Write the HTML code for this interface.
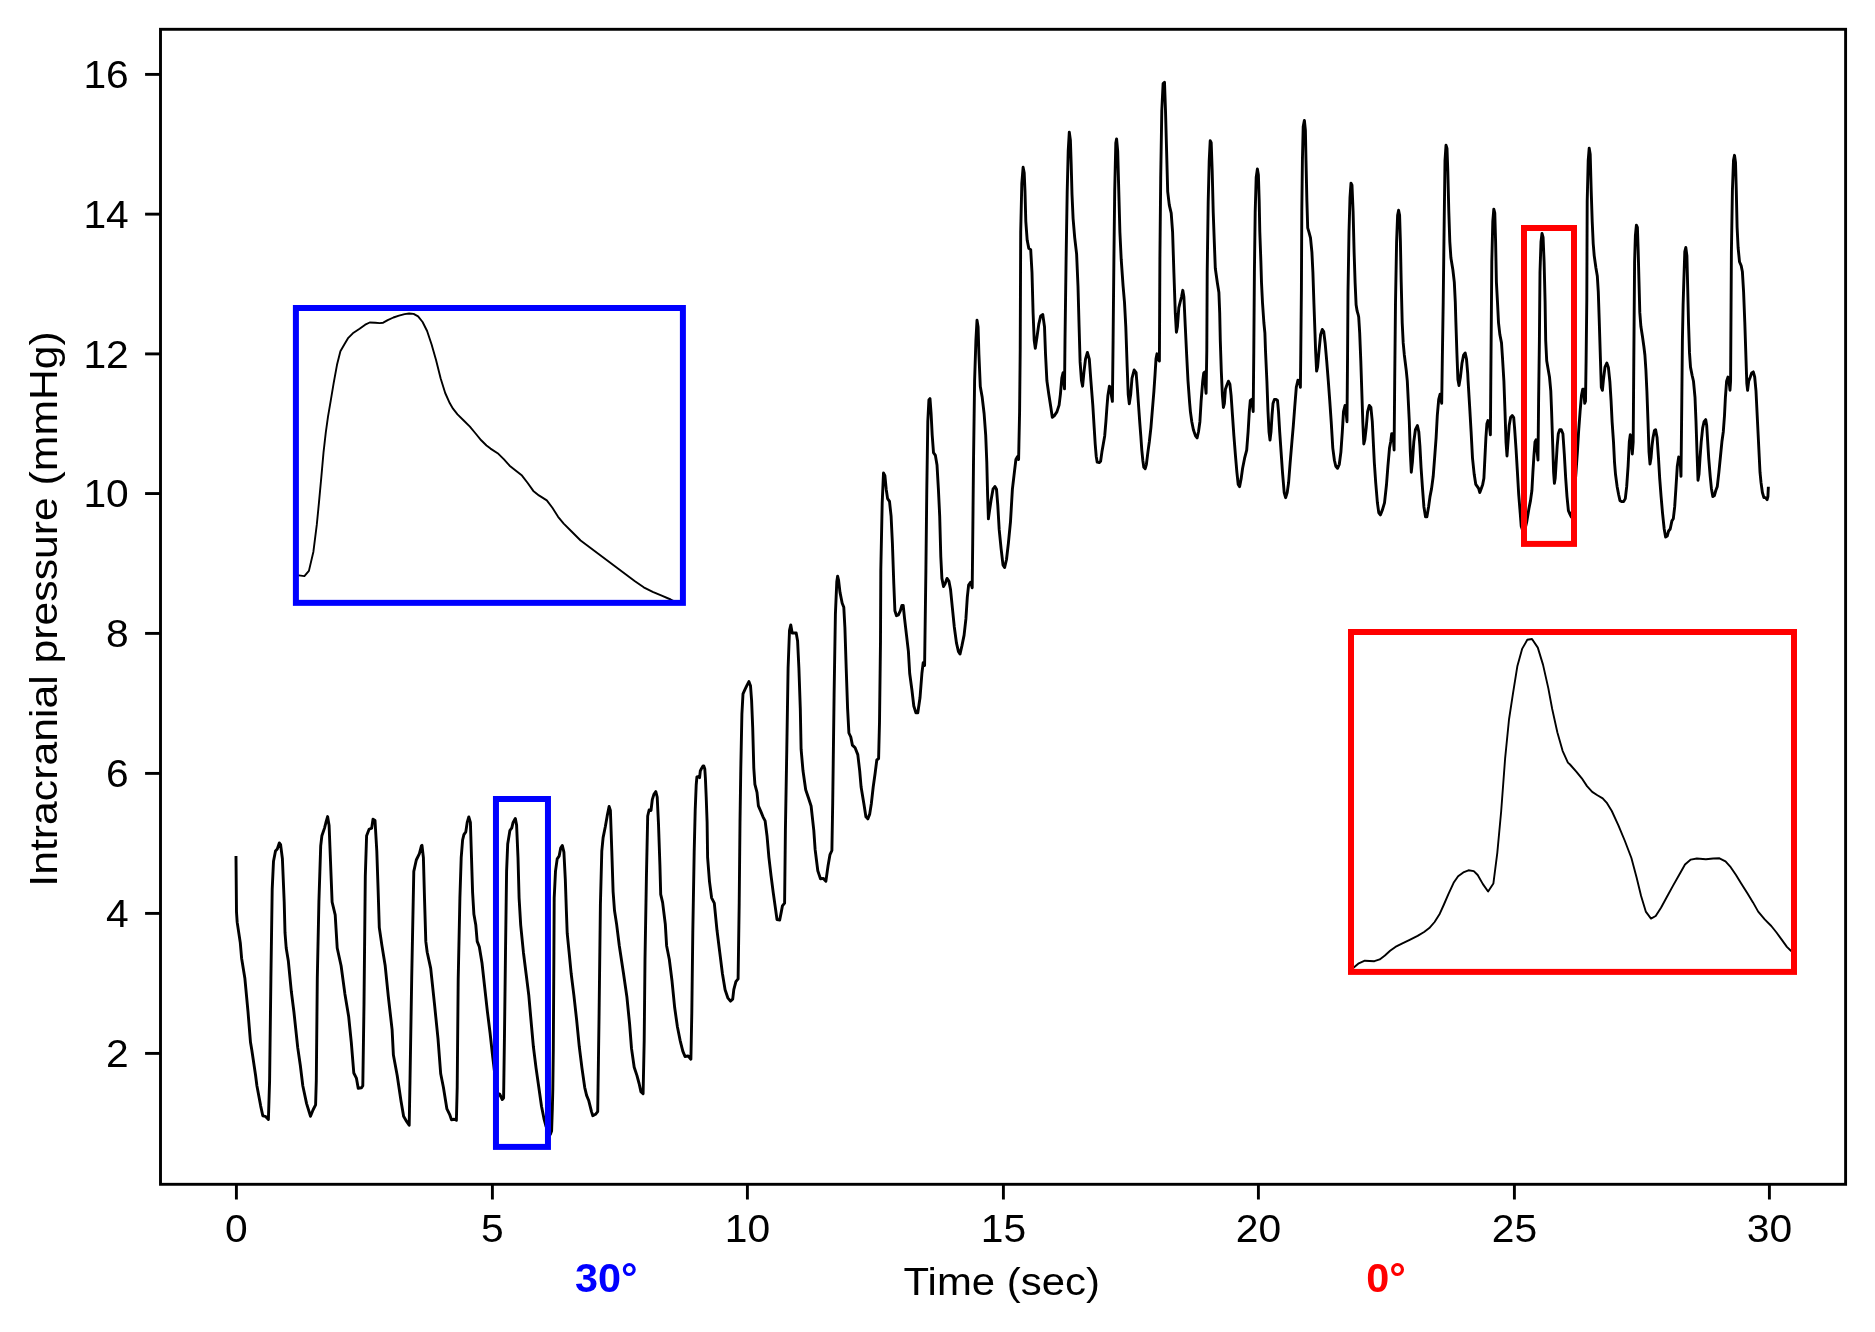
<!DOCTYPE html>
<html><head><meta charset="utf-8"><style>
html,body{margin:0;padding:0;background:#fff;}
svg{display:block;will-change:transform;}
text{font-family:"Liberation Sans",sans-serif;}
.tk{font-size:39.2px;}
.lb{font-size:39.1px;}
.dg{font-size:41.4px;font-weight:bold;}
</style></head><body>
<svg width="1875" height="1332" viewBox="0 0 1875 1332">
<polyline points="236.0,857.5 236.5,912.2 237.2,922.4 240.3,942.9 241.6,958.2 244.9,978.6 248.0,1011.7 250.5,1042.3 251.8,1050.0 255.6,1075.5 256.9,1085.7 260.7,1106.1 262.8,1115.8 265.3,1116.3 268.4,1119.4 269.6,1080.6 270.9,978.6 272.2,889.3 273.5,861.2 275.5,851.0 277.3,849.0 279.3,842.9 280.6,844.6 282.4,858.7 284.2,902.0 285.0,932.7 286.2,948.0 288.3,960.7 291.3,991.3 293.9,1011.7 297.7,1047.4 300.3,1065.3 302.8,1085.7 306.6,1103.6 310.5,1116.3 313.0,1110.0 315.6,1104.8 316.3,1080.6 317.3,978.6 318.9,902.0 320.7,845.9 321.9,835.7 324.5,828.1 325.8,823.0 327.6,816.6 329.1,825.5 330.1,851.0 332.1,902.0 335.2,914.8 337.2,948.0 341.1,965.8 344.9,993.9 348.7,1016.8 351.3,1042.3 353.8,1073.0 356.4,1078.1 358.2,1088.3 361.5,1087.8 362.8,1085.7 364.0,1004.0 365.3,876.5 366.6,835.7 369.1,829.3 371.7,828.1 373.0,819.1 375.0,820.4 376.8,851.0 378.1,889.3 379.3,927.6 381.9,945.4 385.2,965.8 388.3,996.4 392.1,1029.6 393.4,1055.1 397.2,1075.5 401.0,1101.0 403.6,1116.3 406.6,1121.4 409.2,1125.3 410.0,1080.6 411.7,978.6 413.8,871.4 416.3,860.0 419.4,853.6 421.4,845.9 422.0,845.4 423.4,857.6 424.5,898.1 425.8,941.4 427.2,952.2 430.7,968.4 434.7,1006.2 438.0,1038.6 440.7,1073.8 443.4,1087.3 446.9,1108.9 449.6,1114.3 451.5,1119.7 454.2,1119.2 456.4,1120.3 457.2,1087.3 458.2,979.2 459.9,898.1 461.2,857.6 462.6,840.0 463.9,834.6 465.8,831.9 467.2,822.4 468.8,817.0 470.4,822.4 471.5,857.6 472.6,892.7 473.9,914.3 475.8,925.1 477.2,941.4 479.3,946.8 482.0,963.0 484.7,987.3 487.4,1011.6 490.1,1033.2 492.8,1057.6 495.5,1080.0 498.2,1095.4 499.6,1094.0 502.3,1099.5 503.6,1098.1 504.5,1033.2 505.5,952.2 506.6,871.1 507.7,844.1 509.9,830.5 511.8,827.8 513.1,822.4 515.3,818.4 516.6,825.1 518.0,857.6 519.1,898.1 520.7,925.1 523.4,952.2 526.1,973.8 528.8,995.4 530.7,1017.0 533.4,1046.8 536.1,1068.4 538.8,1087.3 541.5,1106.2 544.2,1119.7 546.1,1126.5 548.5,1132.5 550.3,1134.5 551.6,1131.0 552.3,1110.0 552.8,1090.0 553.3,1050.0 553.9,952.2 554.2,898.1 555.5,871.1 557.2,858.9 559.1,856.2 560.7,848.1 562.3,845.4 563.9,852.2 565.3,879.2 566.4,911.6 567.2,933.2 569.1,952.2 571.2,973.8 573.9,995.4 576.6,1019.7 579.3,1046.8 582.0,1068.4 584.7,1087.3 586.6,1095.4 588.8,1100.8 591.5,1111.6 592.8,1115.7 595.5,1114.3 597.7,1111.6 599.1,1013.2 600.4,905.1 601.8,851.1 603.1,837.6 605.3,826.8 607.2,815.9 609.1,806.5 610.4,810.5 611.8,851.1 613.1,891.6 614.5,910.5 616.6,924.1 619.3,945.7 623.4,972.7 626.9,997.0 629.6,1024.0 631.5,1048.4 634.2,1067.3 636.9,1075.4 639.1,1083.5 640.9,1091.6 643.1,1093.8 644.2,1040.3 645.0,959.2 646.4,878.1 647.7,816.0 649.1,810.0 651.0,810.5 652.3,799.7 653.9,794.3 655.8,791.6 657.2,797.0 658.5,824.1 659.9,864.6 660.7,894.3 662.6,902.4 665.3,924.1 666.6,945.7 669.3,959.2 672.0,980.8 674.7,1007.8 677.4,1026.8 680.1,1040.3 682.8,1051.1 685.0,1056.5 688.2,1056.0 690.9,1059.2 691.8,1013.2 692.8,932.2 694.2,851.1 695.2,810.0 696.2,785.0 696.9,777.0 698.3,776.6 699.6,777.6 700.3,771.0 701.7,768.2 703.0,766.0 703.8,766.0 704.8,769.0 705.4,778.0 706.2,797.0 707.1,822.0 707.6,857.3 709.5,881.6 711.6,897.8 714.3,903.2 717.0,930.3 719.7,951.9 722.4,973.5 725.1,989.7 727.8,997.8 730.5,1001.1 732.7,999.2 733.8,989.7 735.9,981.6 738.1,978.9 739.2,903.2 740.0,822.2 740.8,768.1 741.9,714.1 743.0,693.8 744.9,689.7 746.8,685.7 748.9,681.6 750.5,685.7 751.6,700.5 752.7,727.6 753.8,768.1 754.9,784.3 757.0,792.4 758.4,805.9 760.8,811.4 763.0,816.8 765.1,820.8 767.0,835.7 768.9,857.3 771.1,876.2 773.2,892.4 775.1,905.9 777.0,919.5 779.7,920.0 781.4,911.4 782.4,905.9 784.6,903.2 785.4,830.3 786.8,749.2 788.1,668.1 789.5,630.3 790.8,624.9 792.2,633.0 794.1,633.0 796.2,633.0 797.6,641.1 798.9,668.1 800.3,708.6 801.1,749.2 803.0,770.8 805.7,789.7 808.4,797.8 811.1,806.0 813.8,830.3 815.1,849.2 817.8,870.8 820.5,878.9 823.2,878.4 825.9,881.1 828.1,865.4 830.0,854.6 831.9,850.5 832.7,803.2 834.1,695.1 835.4,614.1 836.8,581.6 837.6,576.2 838.6,580.3 840.0,592.4 842.2,603.2 843.8,607.3 844.9,627.6 846.2,668.1 847.6,708.6 848.9,733.0 850.8,737.0 852.4,745.1 855.1,747.8 857.8,754.6 859.7,770.8 861.1,787.0 863.8,803.2 865.9,816.8 867.8,818.9 869.7,814.1 871.4,803.2 873.2,787.0 875.1,773.5 876.8,760.0 878.6,758.6 879.5,722.2 880.5,641.1 880.8,570.3 882.2,502.7 883.5,473.0 884.9,475.7 886.2,489.2 887.6,498.6 889.5,501.4 891.1,516.2 892.4,543.2 893.8,583.8 894.9,610.8 896.5,615.7 898.4,614.9 900.3,610.8 901.9,605.4 903.2,605.4 904.6,618.9 906.5,635.1 908.4,651.4 909.7,673.5 911.9,689.7 913.8,706.0 915.9,712.7 917.8,712.7 920.0,697.8 921.9,673.5 923.2,662.7 924.6,665.4 925.9,570.3 926.8,489.2 927.8,421.6 928.9,400.0 930.0,398.6 931.1,413.5 932.2,435.1 933.5,452.7 935.4,455.4 937.0,464.9 938.4,489.2 939.7,516.2 940.8,556.8 941.9,578.4 943.5,586.5 945.1,583.8 947.0,578.4 948.9,581.1 950.5,589.2 952.4,608.1 954.3,627.0 956.5,643.2 958.4,651.4 960.0,654.1 961.9,645.9 964.1,635.1 965.9,618.9 967.3,597.3 968.6,585.1 970.5,582.4 972.2,587.8 972.7,543.2 973.5,462.2 974.6,381.1 975.9,340.5 977.0,320.3 978.1,327.0 978.9,354.1 980.3,386.5 982.2,397.3 984.1,413.5 985.7,435.1 986.8,462.2 987.6,494.6 988.4,518.9 989.5,510.8 991.1,500.0 993.0,489.2 994.9,486.5 996.5,489.2 997.8,505.4 999.2,529.7 1001.1,548.6 1003.0,564.9 1004.6,567.6 1006.5,559.5 1008.4,543.2 1010.5,521.6 1012.4,489.2 1014.6,470.3 1015.9,459.5 1017.3,456.8 1018.6,459.5 1019.6,411.6 1020.2,350.8 1020.7,232.2 1021.8,183.5 1023.1,167.3 1024.2,172.7 1025.0,191.6 1025.8,221.4 1027.2,240.3 1028.8,248.4 1030.7,249.7 1032.0,272.7 1033.1,313.2 1034.2,340.3 1035.3,348.4 1036.9,337.6 1038.8,324.1 1040.7,315.9 1042.8,314.6 1044.5,326.8 1045.5,353.8 1046.9,380.8 1048.8,394.3 1050.9,407.8 1052.3,417.3 1054.2,415.9 1056.9,411.9 1059.1,405.1 1060.4,394.3 1061.8,378.1 1063.1,372.7 1064.5,388.9 1065.0,340.3 1066.1,259.2 1067.2,191.6 1068.2,151.1 1069.3,132.2 1070.4,140.3 1071.2,164.6 1072.0,194.3 1073.1,218.6 1074.7,237.6 1076.6,253.8 1078.0,286.2 1079.1,326.8 1080.1,361.9 1081.5,380.8 1082.6,386.2 1083.9,372.7 1085.5,359.2 1087.4,352.4 1089.3,359.2 1090.9,380.8 1092.8,405.1 1094.2,427.8 1095.2,444.0 1096.2,456.2 1097.2,462.2 1099.2,462.6 1100.6,461.2 1101.9,452.1 1103.3,444.0 1104.7,435.9 1105.9,421.7 1106.9,407.5 1107.9,395.4 1109.4,386.3 1110.4,387.3 1111.4,395.4 1112.4,401.4 1113.1,340.3 1113.9,259.2 1114.7,191.6 1115.8,143.0 1116.6,138.9 1117.7,151.1 1118.8,191.6 1119.9,232.2 1121.2,259.2 1123.1,286.2 1124.5,302.4 1125.8,326.8 1127.2,367.3 1128.2,394.3 1129.3,403.8 1130.7,394.3 1132.0,378.1 1134.2,370.0 1136.1,372.7 1137.4,388.9 1138.7,407.5 1139.7,421.7 1140.8,435.9 1141.8,450.1 1142.8,460.2 1143.8,467.3 1145.2,468.7 1146.4,464.3 1147.9,452.1 1149.3,442.0 1150.9,427.8 1151.9,415.6 1152.9,403.5 1153.9,391.3 1155.0,375.1 1156.0,358.9 1157.0,353.8 1158.4,359.9 1159.4,360.9 1159.9,259.2 1160.7,178.1 1161.8,110.5 1163.1,83.5 1164.5,82.2 1165.5,110.5 1166.6,151.1 1167.7,191.6 1169.3,205.1 1171.2,213.2 1172.6,232.2 1173.9,272.7 1175.3,313.2 1176.4,332.2 1177.4,326.8 1178.8,307.8 1180.1,302.4 1181.5,297.0 1182.8,290.3 1183.9,297.0 1185.3,326.8 1186.6,353.8 1188.0,380.8 1189.6,402.4 1190.4,411.6 1191.8,421.7 1193.4,429.8 1195.5,435.9 1197.1,437.9 1198.5,431.8 1199.9,421.7 1201.1,401.4 1202.7,381.2 1203.7,373.1 1204.7,372.1 1205.5,387.3 1206.1,393.3 1206.8,350.8 1207.2,272.4 1208.2,201.4 1209.2,160.9 1210.2,140.7 1211.2,142.7 1212.2,171.1 1213.2,211.6 1214.3,242.0 1215.3,268.3 1217.3,282.5 1218.9,292.6 1219.7,312.9 1220.3,340.7 1221.3,371.1 1222.4,395.4 1223.4,407.5 1224.4,403.5 1225.4,389.3 1226.8,385.2 1228.4,381.2 1229.9,384.2 1231.1,395.4 1232.5,415.6 1233.9,435.9 1235.5,456.2 1236.9,472.4 1238.2,484.5 1239.6,486.6 1241.2,478.4 1242.6,468.3 1244.6,458.2 1246.7,450.1 1248.1,431.8 1249.3,411.6 1250.3,400.4 1251.7,399.4 1253.2,411.6 1253.8,350.8 1254.4,272.4 1255.2,211.6 1256.2,177.1 1257.4,169.0 1258.4,175.1 1259.2,201.4 1259.8,231.8 1260.9,262.2 1261.5,282.5 1262.5,302.8 1263.9,323.0 1264.9,333.2 1265.5,350.8 1266.9,381.2 1268.0,411.6 1269.0,431.8 1270.0,440.0 1271.0,431.8 1272.0,415.6 1273.0,403.5 1274.4,399.4 1276.1,399.4 1277.5,400.4 1278.5,411.6 1279.7,431.8 1281.1,452.1 1282.5,472.4 1284.2,492.6 1285.6,497.7 1287.2,492.6 1288.6,482.5 1290.2,462.2 1291.9,442.0 1293.3,425.8 1294.7,407.5 1296.3,387.3 1297.9,380.2 1299.4,381.2 1300.4,387.3 1300.8,350.8 1301.4,290.0 1301.8,211.6 1302.4,160.9 1303.2,126.5 1304.4,120.4 1305.4,130.5 1306.0,160.9 1306.9,201.4 1307.7,227.8 1308.9,231.8 1310.5,237.9 1311.9,252.1 1312.9,272.4 1313.9,302.8 1315.0,333.2 1315.6,350.8 1316.6,371.1 1317.6,367.0 1319.0,350.8 1320.6,334.6 1322.3,329.5 1323.7,331.5 1325.1,342.7 1326.7,360.9 1328.3,381.2 1329.8,401.4 1331.2,421.7 1332.8,448.1 1334.4,460.2 1335.8,466.3 1337.5,468.3 1339.3,464.3 1340.9,452.1 1342.3,431.8 1343.5,411.6 1345.0,405.5 1346.0,411.6 1347.0,421.7 1347.6,350.8 1348.0,292.6 1349.0,231.8 1350.0,197.4 1351.0,183.2 1352.0,185.2 1353.1,211.6 1354.1,252.1 1355.1,282.5 1356.1,304.8 1357.1,310.9 1358.1,314.3 1358.7,317.0 1359.7,333.2 1360.8,360.9 1361.8,391.3 1362.8,421.7 1363.8,444.0 1364.8,440.0 1366.2,427.8 1367.6,411.6 1369.3,405.5 1370.9,407.5 1372.3,421.7 1373.3,442.0 1374.3,462.2 1375.7,482.5 1377.4,502.8 1378.8,512.9 1380.4,514.9 1382.4,509.9 1384.5,502.8 1386.5,484.5 1387.9,466.3 1389.5,448.1 1390.7,441.8 1391.7,433.7 1393.1,433.7 1394.1,450.0 1394.7,381.1 1395.5,302.4 1396.6,241.6 1397.6,215.2 1398.6,210.2 1399.6,215.2 1400.4,241.6 1401.2,282.1 1402.2,322.6 1403.2,342.9 1404.3,354.7 1406.3,370.9 1407.3,381.1 1408.3,401.3 1409.3,421.6 1410.3,452.0 1411.3,472.2 1412.4,462.1 1413.8,441.8 1415.4,429.7 1417.4,425.6 1418.8,431.7 1419.9,445.9 1421.1,468.2 1422.5,488.4 1423.9,506.7 1425.5,516.8 1426.9,516.8 1428.6,506.7 1430.0,496.6 1431.6,488.4 1433.2,476.3 1434.6,458.1 1436.1,437.8 1437.3,415.5 1438.7,399.3 1440.1,394.2 1441.7,403.3 1442.3,360.8 1443.2,302.4 1444.2,221.3 1445.0,160.5 1446.0,145.3 1447.0,148.4 1447.8,170.7 1448.8,211.2 1449.8,241.6 1450.9,257.8 1452.9,270.0 1454.3,282.1 1455.3,302.4 1455.9,322.6 1456.9,353.0 1457.9,379.4 1459.0,385.5 1460.4,377.3 1462.0,363.2 1463.6,355.1 1465.2,353.0 1466.5,359.1 1467.7,373.3 1468.1,381.1 1469.7,407.4 1471.1,431.7 1472.5,458.1 1474.2,474.3 1475.8,484.4 1477.2,486.4 1478.6,488.4 1479.8,492.5 1481.3,488.4 1482.7,484.4 1483.9,478.3 1484.9,458.1 1485.9,437.8 1486.9,423.6 1487.9,420.6 1489.4,425.6 1490.4,434.8 1490.8,381.1 1491.8,261.8 1492.8,221.3 1493.8,209.2 1494.8,213.2 1495.6,241.6 1496.4,282.1 1497.5,302.4 1498.5,322.6 1499.9,334.8 1501.5,342.9 1502.5,358.0 1503.9,381.1 1505.0,411.5 1506.0,441.8 1507.0,456.0 1508.0,441.8 1509.2,425.6 1510.6,417.5 1512.3,415.5 1513.7,417.5 1514.7,429.7 1516.1,450.0 1517.3,470.2 1518.7,494.5 1520.2,512.8 1521.2,526.0 1523.0,531.5 1524.8,530.0 1526.8,521.6 1528.9,508.7 1530.5,500.6 1531.9,490.5 1532.9,472.2 1533.9,456.0 1535.0,441.8 1536.0,439.8 1537.0,450.0 1538.0,460.1 1538.6,401.3 1539.4,340.5 1540.0,272.0 1541.0,241.6 1542.0,233.5 1543.1,237.5 1544.1,261.8 1545.1,302.4 1545.7,340.5 1546.7,360.8 1548.1,368.9 1549.5,377.0 1550.8,391.2 1551.6,411.5 1552.6,441.8 1553.6,472.2 1554.4,483.4 1555.2,478.3 1556.2,462.1 1557.2,445.9 1558.3,433.7 1559.7,429.7 1561.3,429.7 1562.9,433.7 1564.3,454.0 1565.7,478.3 1567.0,496.6 1568.4,510.7 1569.8,513.8 1571.3,517.0 1573.0,508.0 1574.6,490.0 1576.0,472.2 1577.4,452.0 1578.6,431.7 1580.1,411.5 1581.5,395.2 1582.7,389.2 1583.7,389.2 1584.7,403.3 1585.5,401.3 1586.1,360.8 1586.8,300.0 1587.2,200.9 1588.2,160.4 1589.2,148.2 1590.2,154.3 1591.2,190.8 1592.2,221.2 1593.2,243.5 1594.2,255.6 1595.9,267.8 1597.3,275.9 1598.3,292.1 1599.3,322.5 1600.3,355.0 1601.3,387.2 1602.4,390.3 1603.4,380.0 1605.0,367.0 1606.8,363.0 1608.4,367.5 1609.9,382.0 1611.1,401.3 1612.1,421.6 1613.5,441.8 1614.5,462.1 1615.5,474.3 1617.1,486.4 1618.6,494.5 1620.0,500.6 1622.0,501.6 1623.6,501.6 1625.3,498.6 1626.7,486.4 1628.1,466.2 1629.3,441.8 1630.3,434.8 1631.3,441.8 1632.3,454.0 1633.2,441.8 1633.8,360.8 1634.6,261.7 1635.4,235.4 1636.4,225.2 1637.4,227.3 1638.2,251.6 1639.0,282.0 1639.8,312.4 1640.9,326.6 1642.5,336.7 1643.9,346.8 1644.9,355.0 1645.9,370.0 1646.9,391.2 1648.0,421.6 1649.0,452.0 1650.0,464.1 1651.0,458.1 1652.0,445.9 1653.0,437.8 1654.4,430.7 1655.6,429.7 1657.1,437.8 1658.5,458.1 1659.7,478.3 1661.1,496.6 1662.5,512.8 1664.2,529.0 1665.6,537.1 1667.2,536.1 1668.6,531.0 1670.2,529.0 1671.9,520.9 1673.3,518.8 1674.7,506.7 1675.9,488.4 1677.3,466.2 1678.7,457.0 1680.0,458.1 1681.0,476.3 1681.8,401.3 1682.4,340.0 1683.1,305.0 1683.8,282.0 1684.8,251.6 1685.8,247.5 1686.9,255.6 1687.7,288.0 1688.5,322.5 1689.5,352.9 1690.5,367.1 1692.1,375.2 1693.5,381.3 1695.0,397.3 1696.0,421.6 1697.0,452.0 1698.0,480.3 1699.0,474.3 1700.0,458.1 1701.2,441.8 1702.7,427.7 1704.1,421.6 1705.7,419.6 1706.7,425.6 1707.7,441.8 1708.7,458.1 1710.2,476.3 1711.4,488.4 1712.8,496.6 1714.4,495.5 1715.8,490.5 1717.3,486.4 1718.9,472.2 1720.5,456.0 1721.9,441.8 1723.3,431.7 1724.5,415.5 1725.4,397.3 1726.6,381.1 1728.0,377.0 1729.0,381.1 1730.0,390.2 1730.6,381.1 1731.4,251.6 1732.4,190.8 1733.5,160.4 1734.5,155.3 1735.5,162.4 1736.3,190.8 1737.1,227.3 1738.1,247.5 1739.5,261.7 1741.2,265.8 1742.4,271.8 1743.6,292.1 1744.8,322.5 1745.8,352.9 1746.8,383.3 1747.6,390.3 1748.7,381.2 1750.3,377.0 1751.7,372.9 1753.3,371.9 1754.7,377.0 1756.0,391.2 1757.0,411.5 1758.0,431.7 1759.0,452.0 1760.0,472.2 1761.0,482.4 1762.4,492.5 1763.9,497.6 1765.5,497.6 1767.1,499.6 1767.9,496.6 1768.3,488.2" fill="none" stroke="#000" stroke-width="2.9" stroke-linejoin="round" stroke-linecap="square"/>
<rect x="495.96" y="799.00" width="52.00" height="347.90" fill="none" stroke="#0000ff" stroke-width="6.0"/>
<rect x="1524.00" y="228.00" width="50.00" height="315.90" fill="none" stroke="#ff0000" stroke-width="6.0"/>
<rect x="295.9" y="308" width="387" height="294.85" fill="#fff" stroke="none"/>
<rect x="1351" y="632" width="443" height="339.9" fill="#fff" stroke="none"/>
<polyline points="296.0,575.4 298.8,575.4 304.4,576.1 308.9,570.9 313.4,551.7 316.8,524.7 319.0,502.2 321.3,477.4 323.5,452.6 325.8,432.4 328.0,416.6 330.7,400.8 333.7,382.8 337.0,364.8 340.4,351.3 344.3,344.5 348.3,337.8 352.8,333.3 359.6,328.8 365.2,324.7 369.7,322.5 375.3,322.7 379.8,323.1 383.2,322.7 387.7,320.2 393.4,317.5 399.0,315.7 404.6,314.1 409.1,313.5 413.6,313.9 418.1,316.4 422.6,322.0 427.1,331.0 431.6,344.5 436.1,360.3 440.6,378.3 445.2,393.0 449.7,403.1 453.0,408.7 457.5,414.4 463.2,420.0 469.9,426.7 475.6,433.5 481.2,440.3 486.5,445.5 490.5,448.6 498.4,453.8 504.0,459.4 509.6,465.7 515.3,470.2 522.0,475.6 527.7,483.0 533.3,490.9 538.9,495.4 546.8,500.4 552.4,507.8 558.1,516.8 563.7,523.6 571.6,531.5 580.6,540.5 589.6,547.2 598.6,554.0 607.6,560.8 616.6,567.5 625.6,574.3 634.6,581.0 643.7,587.3 652.7,591.8 661.7,595.7 670.7,599.5 677.0,602.5" fill="none" stroke="#000" stroke-width="1.9" stroke-linejoin="round"/>
<polyline points="1351.0,969.5 1353.5,967.8 1358.8,963.3 1364.8,960.7 1374.4,961.2 1379.7,959.4 1384.9,955.5 1390.1,950.8 1395.4,946.9 1401.9,943.7 1409.7,939.8 1417.6,935.9 1424.1,932.0 1429.3,928.1 1434.6,922.0 1439.8,913.7 1443.7,905.0 1448.4,894.1 1453.6,882.8 1458.1,876.3 1463.3,872.4 1468.5,870.3 1473.8,871.1 1477.7,875.0 1482.9,884.1 1488.1,891.5 1493.4,883.4 1497.3,852.8 1501.2,811.0 1505.1,758.7 1509.0,719.5 1513.0,693.3 1517.4,665.9 1522.1,648.9 1527.3,639.8 1532.0,639.0 1537.8,647.6 1543.0,664.6 1548.3,688.1 1552.2,709.0 1557.4,732.5 1562.6,750.8 1567.9,762.6 1570.0,764.5 1576.5,771.8 1581.8,778.3 1587.0,786.1 1592.2,791.9 1597.4,795.3 1602.7,798.4 1606.6,802.6 1611.8,811.0 1618.4,825.3 1624.9,841.0 1631.4,858.0 1636.6,877.6 1641.1,895.9 1645.8,911.6 1651.0,918.6 1655.7,916.0 1661.0,907.7 1666.7,897.2 1673.2,885.4 1679.8,873.7 1685.0,864.5 1690.8,859.6 1696.8,858.5 1705.9,859.3 1713.2,858.5 1719.5,858.3 1725.5,861.4 1730.7,867.2 1736.0,875.0 1741.2,883.4 1747.7,893.8 1753.0,902.4 1758.2,911.6 1764.7,919.4 1771.3,926.0 1776.5,932.5 1781.7,939.6 1786.9,946.9 1790.9,950.8 1794.0,953.2" fill="none" stroke="#000" stroke-width="1.9" stroke-linejoin="round"/>
<rect x="295.90" y="308.00" width="387.00" height="294.85" fill="none" stroke="#0000ff" stroke-width="6.0"/>
<rect x="1351.00" y="632.00" width="443.00" height="339.90" fill="none" stroke="#ff0000" stroke-width="6.0"/>
<rect x="160.50" y="29.30" width="1685.10" height="1155.00" fill="none" stroke="#000" stroke-width="2.9" stroke-linejoin="miter"/>
<line x1="145.10" y1="1053.40" x2="160.50" y2="1053.40" stroke="#000" stroke-width="2.9"/>
<text transform="translate(128.8,1067.00) scale(1.04,1)" text-anchor="end" class="tk">2</text>
<line x1="145.10" y1="913.40" x2="160.50" y2="913.40" stroke="#000" stroke-width="2.9"/>
<text transform="translate(128.8,927.00) scale(1.04,1)" text-anchor="end" class="tk">4</text>
<line x1="145.10" y1="773.40" x2="160.50" y2="773.40" stroke="#000" stroke-width="2.9"/>
<text transform="translate(128.8,787.00) scale(1.04,1)" text-anchor="end" class="tk">6</text>
<line x1="145.10" y1="633.40" x2="160.50" y2="633.40" stroke="#000" stroke-width="2.9"/>
<text transform="translate(128.8,647.00) scale(1.04,1)" text-anchor="end" class="tk">8</text>
<line x1="145.10" y1="493.55" x2="160.50" y2="493.55" stroke="#000" stroke-width="2.9"/>
<text transform="translate(128.8,507.15) scale(1.04,1)" text-anchor="end" class="tk">10</text>
<line x1="145.10" y1="353.90" x2="160.50" y2="353.90" stroke="#000" stroke-width="2.9"/>
<text transform="translate(128.8,367.50) scale(1.04,1)" text-anchor="end" class="tk">12</text>
<line x1="145.10" y1="214.15" x2="160.50" y2="214.15" stroke="#000" stroke-width="2.9"/>
<text transform="translate(128.8,227.75) scale(1.04,1)" text-anchor="end" class="tk">14</text>
<line x1="145.10" y1="74.40" x2="160.50" y2="74.40" stroke="#000" stroke-width="2.9"/>
<text transform="translate(128.8,88.00) scale(1.04,1)" text-anchor="end" class="tk">16</text>
<line x1="236.40" y1="1184.30" x2="236.40" y2="1199.50" stroke="#000" stroke-width="2.9"/>
<text transform="translate(236.40,1241.60) scale(1.04,1)" text-anchor="middle" class="tk">0</text>
<line x1="492.40" y1="1184.30" x2="492.40" y2="1199.50" stroke="#000" stroke-width="2.9"/>
<text transform="translate(492.40,1241.60) scale(1.04,1)" text-anchor="middle" class="tk">5</text>
<line x1="747.40" y1="1184.30" x2="747.40" y2="1199.50" stroke="#000" stroke-width="2.9"/>
<text transform="translate(747.40,1241.60) scale(1.04,1)" text-anchor="middle" class="tk">10</text>
<line x1="1003.40" y1="1184.30" x2="1003.40" y2="1199.50" stroke="#000" stroke-width="2.9"/>
<text transform="translate(1003.40,1241.60) scale(1.04,1)" text-anchor="middle" class="tk">15</text>
<line x1="1258.40" y1="1184.30" x2="1258.40" y2="1199.50" stroke="#000" stroke-width="2.9"/>
<text transform="translate(1258.40,1241.60) scale(1.04,1)" text-anchor="middle" class="tk">20</text>
<line x1="1514.40" y1="1184.30" x2="1514.40" y2="1199.50" stroke="#000" stroke-width="2.9"/>
<text transform="translate(1514.40,1241.60) scale(1.04,1)" text-anchor="middle" class="tk">25</text>
<line x1="1769.40" y1="1184.30" x2="1769.40" y2="1199.50" stroke="#000" stroke-width="2.9"/>
<text transform="translate(1769.40,1241.60) scale(1.04,1)" text-anchor="middle" class="tk">30</text>
<text x="1001.7" y="1294.9" text-anchor="middle" class="lb" textLength="196.3" lengthAdjust="spacingAndGlyphs">Time (sec)</text>
<text transform="translate(56.9,608.9) rotate(-90)" text-anchor="middle" class="lb" textLength="555.5" lengthAdjust="spacingAndGlyphs">Intracranial pressure (mmHg)</text>
<text x="575.0" y="1292.3" class="dg" fill="#0000ff">30°</text>
<text x="1366.2" y="1292.3" class="dg" fill="#ff0000">0°</text>
</svg>
</body></html>
